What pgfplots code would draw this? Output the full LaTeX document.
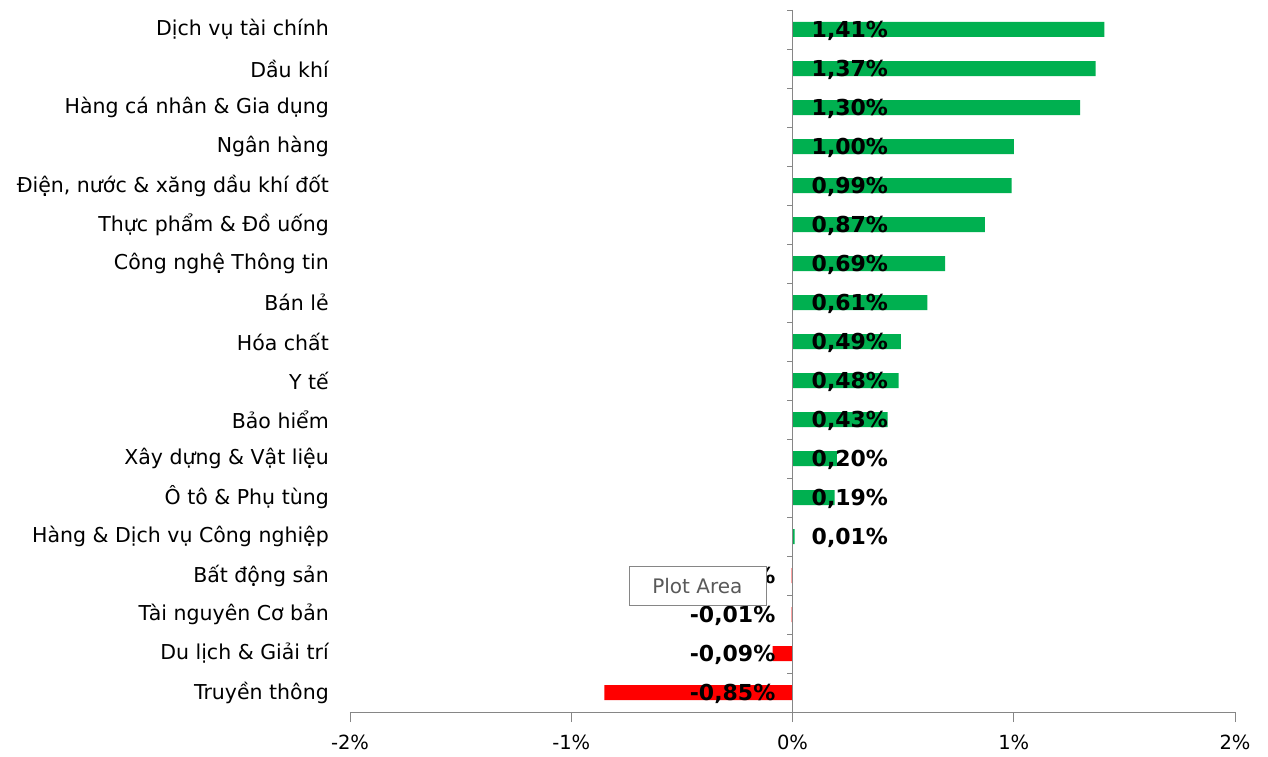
\documentclass[border=0pt]{standalone}
\usepackage{fontspec}
\setmainfont{DejaVu Sans}
\usepackage{pgfplots}
\usepackage{pgfplotstable}
\pgfplotsset{compat=1.18}

\definecolor{barpos}{HTML}{00B050}
\definecolor{barneg}{HTML}{FF0000}
\definecolor{axgray}{HTML}{868686}

% row, value, label (row 0 = top)
\pgfplotstableread{
row  val     base  lab
0    1.41    0     1,41\%
1    1.37    0     1,37\%
2    1.30    0     1,30\%
3    1.00    0     1,00\%
4    0.99    0     0,99\%
5    0.87    0     0,87\%
6    0.69    0     0,69\%
7    0.61    0     0,61\%
8    0.49    0     0,49\%
9    0.48    0     0,48\%
10   0.43    0     0,43\%
11   0.20    0     0,20\%
12   0.19    0     0,19\%
13   0.01    0     0,01\%
}\postab

\pgfplotstableread{
row  val     base  lab
14   -0.004  0     -0,00\%
15   -0.004  0     -0,01\%
16   -0.09   0     -0,09\%
17   -0.85   0     -0,85\%
}\negtab

\begin{document}
\begin{tikzpicture}
\begin{axis}[
    scale only axis,
    width=885pt, height=702pt,
    xmin=-2, xmax=2,
    ymin=-0.5, ymax=17.5,
    y dir=reverse,
    axis x line*=bottom,
    axis y line*=left,
    y axis line style={draw=none},
    x axis line style={axgray, line width=0.8pt},
    xtick={-2,-1,0,1,2},
    xticklabels={-2\%,-1\%,0\%,1\%,2\%},
    x tick style={axgray, line width=0.8pt},
    tick align=outside,
    major tick length=10pt,
    xticklabel style={font=\fontsize{19.5}{22}\selectfont, yshift=-9pt},
    ytick={0,...,17},
    yticklabels={
      Dịch vụ tài chính,
      Dầu khí,
      Hàng cá nhân \& Gia dụng,
      Ngân hàng,
      {Điện, nước \& xăng dầu khí đốt},
      Thực phẩm \& Đồ uống,
      Công nghệ Thông tin,
      Bán lẻ,
      Hóa chất,
      Y tế,
      Bảo hiểm,
      Xây dựng \& Vật liệu,
      Ô tô \& Phụ tùng,
      Hàng \& Dịch vụ Công nghiệp,
      Bất động sản,
      Tài nguyên Cơ bản,
      Du lịch \& Giải trí,
      Truyền thông},
    y tick style={draw=none},
    yticklabel style={font=\fontsize{20.5}{24}\selectfont, anchor=east, inner sep=0pt, xshift=-11pt},
    clip=false,
]
  % bars
  \addplot[xbar, bar width=15pt, bar shift=0pt, fill=barpos, draw=none]
    table[x=val, y=row] {\postab};
  \addplot[xbar, bar width=15pt, bar shift=0pt, fill=barneg, draw=none]
    table[x=val, y=row] {\negtab};

  % zero line with category separators
  \draw[axgray, line width=0.8pt] (axis cs:0,-0.5) -- (axis cs:0,17.5);
  \pgfplotsinvokeforeach{-0.5,0.5,...,16.5}{
    \draw[axgray, line width=0.8pt] (axis cs:0,#1) -- ([xshift=-6pt]axis cs:0,#1);
  }

  % value labels at bar base
  \addplot[draw=none, nodes near coords, point meta=explicit symbolic,
    nodes near coords style={anchor=west, inner sep=0pt, xshift=19pt, yshift=-1pt,
      font=\bfseries\fontsize{22}{26}\selectfont, text=black}]
    table[x=base, y=row, meta=lab] {\postab};
  \addplot[draw=none, nodes near coords, point meta=explicit symbolic,
    nodes near coords style={anchor=east, inner sep=0pt, xshift=-17pt, yshift=-1pt,
      font=\bfseries\fontsize{22}{26}\selectfont, text=black}]
    table[x=base, y=row, meta=lab] {\negtab};

  \coordinate (tip) at (axis cs:-0.43,14.27);
\end{axis}
% tooltip
\node[draw=axgray, fill=white, minimum width=137pt, minimum height=39pt,
      text=black!65, font=\fontsize{20}{24}\selectfont] at (tip) {Plot Area};
\path (current axis.south west) ++(-350pt,-45pt) rectangle ([shift={(33pt,10pt)}]current axis.north east);
\end{tikzpicture}
\end{document}
